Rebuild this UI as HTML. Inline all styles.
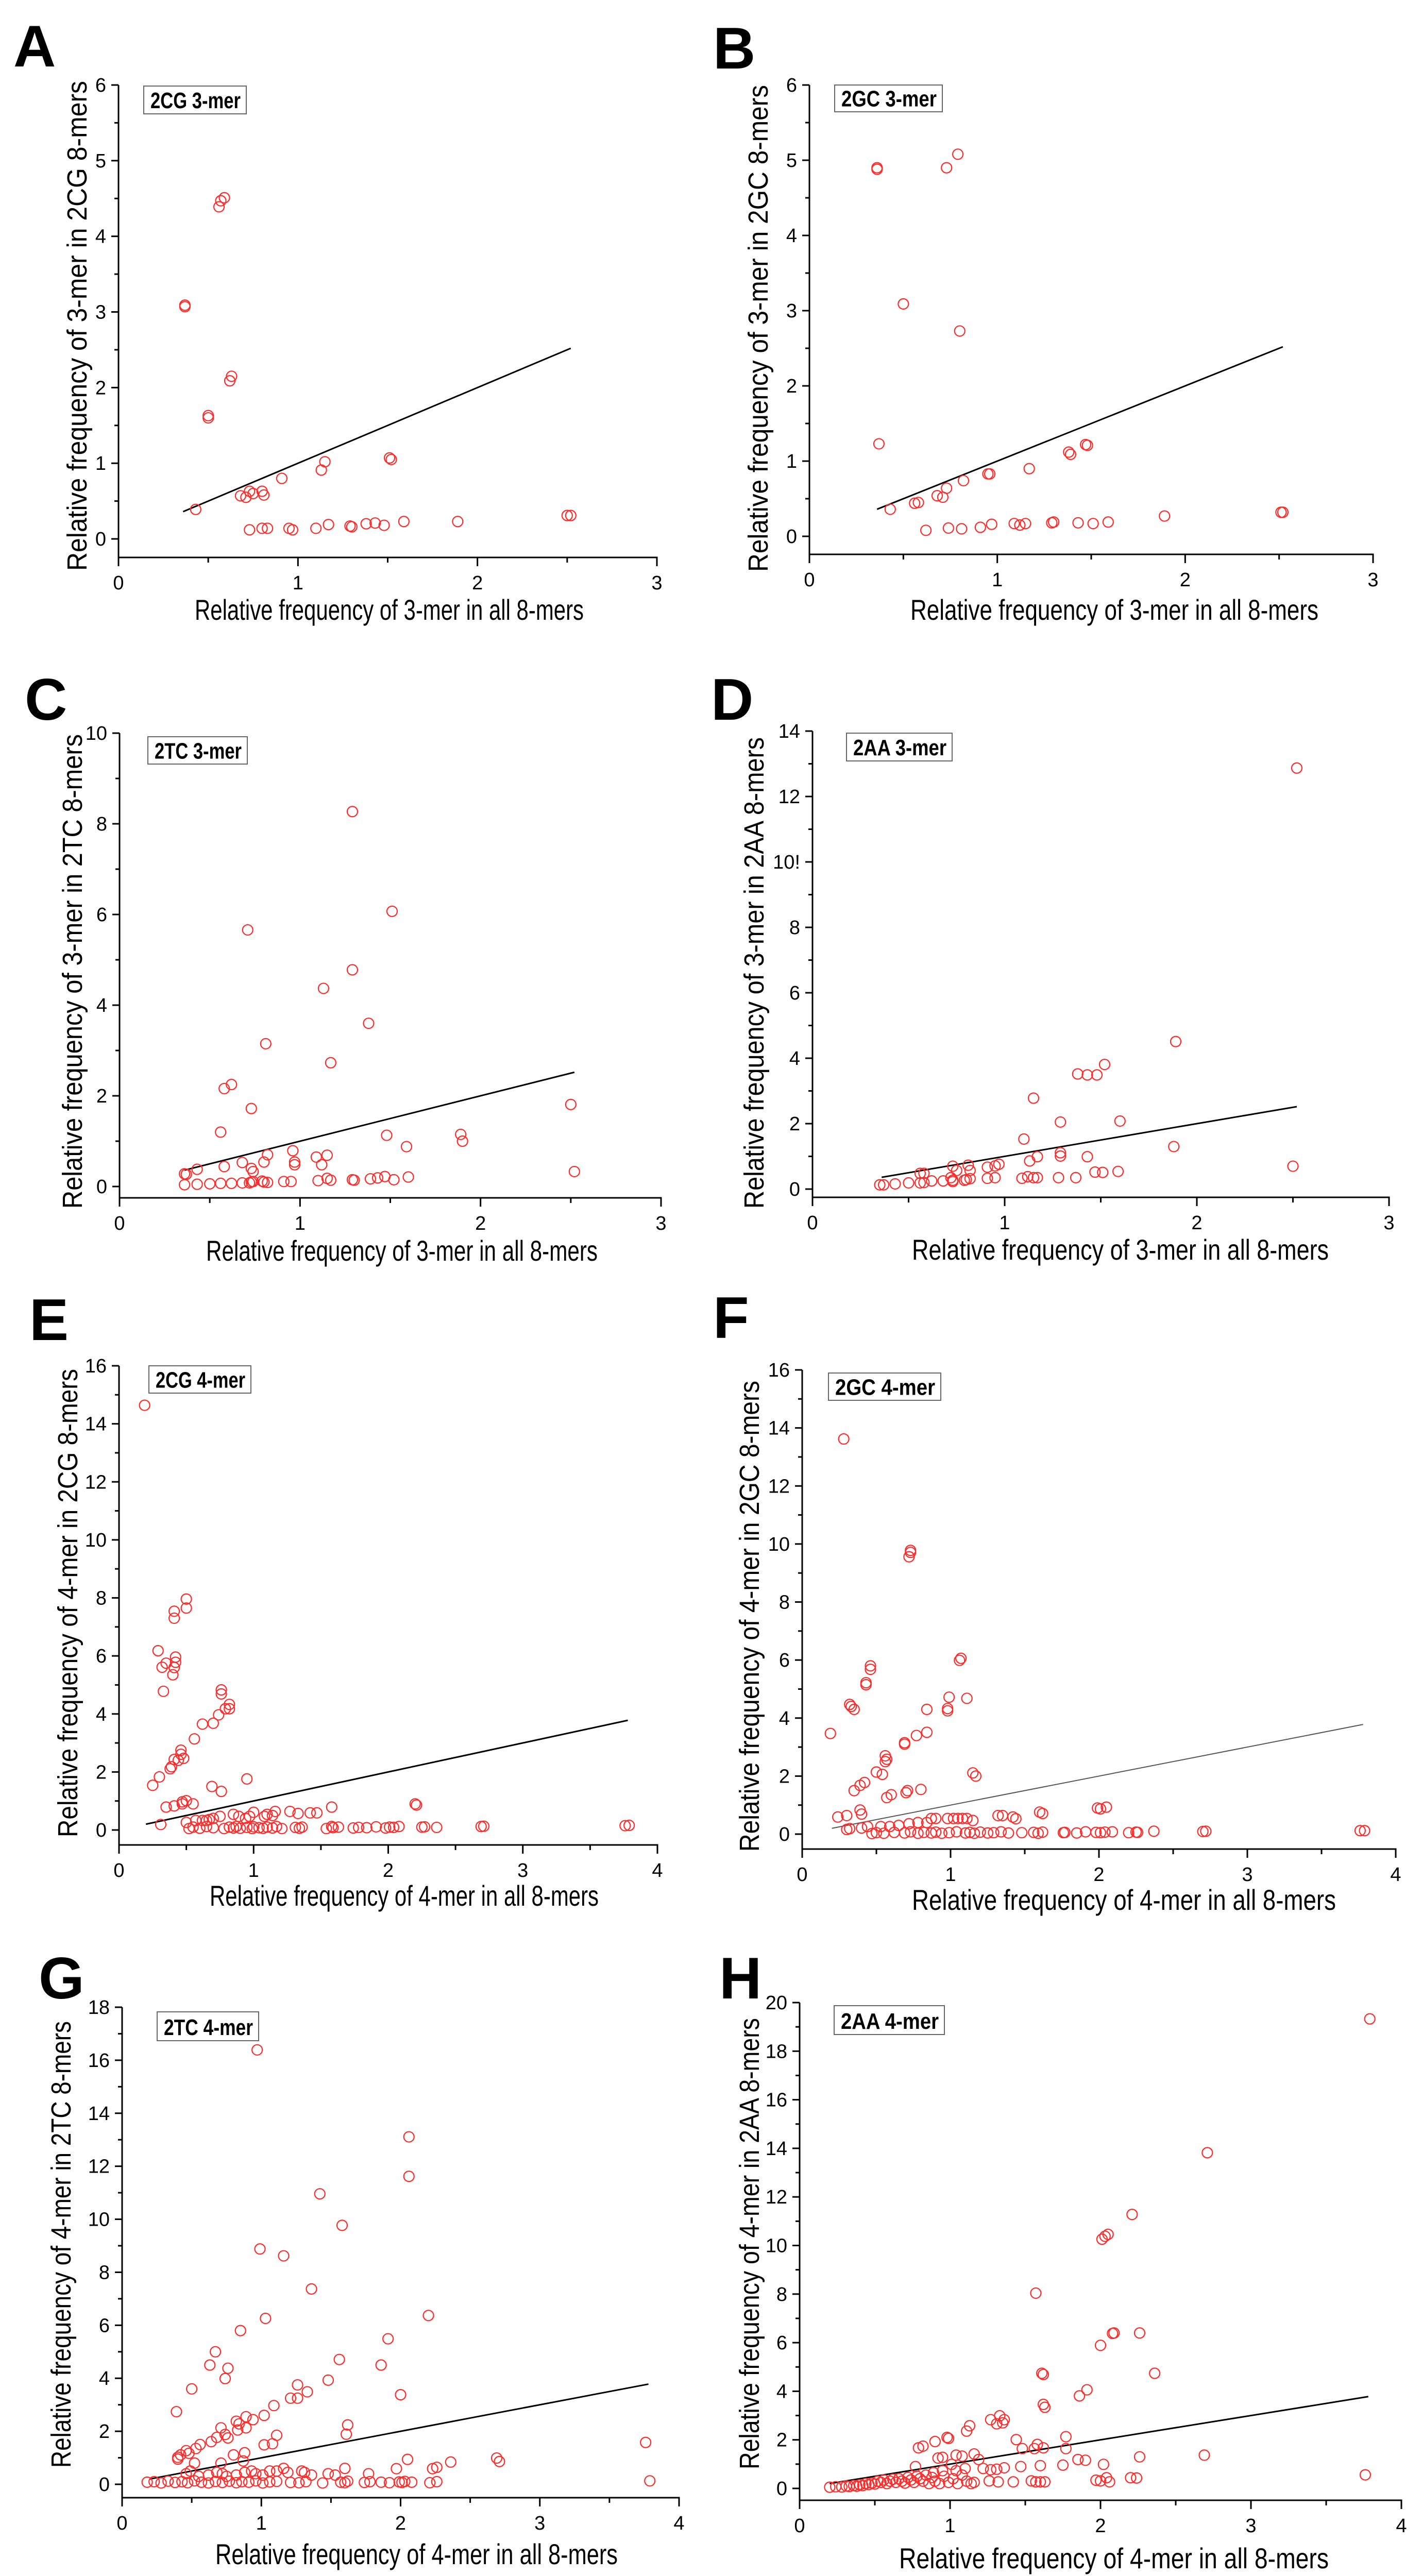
<!DOCTYPE html>
<html><head><meta charset="utf-8"><title>k-mer relative frequency scatter plots</title>
<style>
html,body{margin:0;padding:0;background:#fff;width:2760px;height:5033px;overflow:hidden;}
svg{display:block;position:absolute;left:0;top:0;}
text{font-family:"Liberation Sans",sans-serif;fill:#000;}
</style></head>
<body>
<svg id="fig" xmlns="http://www.w3.org/2000/svg" width="2760" height="5033" viewBox="0 0 2760 5033"></svg>
<script>
// ---------- data ----------
const aX=[.37,.37,.43,.50,.50,.56,.57,.59,.62,.63,.68,.71,.73,.75,.80,.81,.91,.73,.80,.83,.95,.97,1.10,1.17,1.13,1.15,1.29,1.30,1.38,1.43,1.48,1.51,1.52,1.59,1.89,2.50,2.52];
const aY=[3.09,3.07,.39,1.63,1.60,4.39,4.47,4.51,2.09,2.15,.57,.55,.63,.60,.63,.58,.80,.12,.14,.14,.14,.12,.14,.19,.91,1.02,.17,.16,.20,.21,.18,1.07,1.05,.23,.23,.31,.31];
const bX=[.36,.36,.73,.79,.50,.80,.37,.43,.56,.58,.68,.71,.73,.82,.95,.96,1.17,1.38,1.39,1.47,1.48,.62,.74,.81,.91,.97,1.09,1.12,1.15,1.29,1.30,1.43,1.51,1.59,1.89,2.51,2.52];
const bY=[4.90,4.88,4.90,5.08,3.09,2.73,1.23,.36,.44,.45,.54,.52,.64,.74,.83,.83,.90,1.12,1.09,1.22,1.21,.08,.11,.10,.12,.16,.17,.15,.17,.18,.19,.18,.17,.19,.27,.32,.32];
const cX=[1.29,1.51,.71,1.29,1.13,1.38,.81,1.17,.58,.62,.73,.56,2.50,1.48,1.89,1.90,1.59,2.52,.36,.37,.43,.58,.68,.73,.74,.80,.82,.96,.97,.97,1.09,1.12,1.15,
 .36,.43,.50,.56,.62,.68,.72,.73,.74,.79,.80,.82,.91,.95,1.10,1.15,1.17,1.29,1.30,1.39,1.43,1.47,1.52,1.60];
const cY=[8.27,6.07,5.66,4.78,4.37,3.60,3.15,2.73,2.16,2.25,1.72,1.20,1.81,1.13,1.15,1.00,.88,.33,.28,.27,.38,.44,.53,.40,.33,.54,.70,.79,.54,.48,.65,.48,.69,
 .04,.05,.06,.07,.07,.08,.08,.10,.11,.12,.10,.09,.11,.11,.13,.18,.14,.15,.14,.17,.19,.22,.15,.21];
const dX=[2.52,1.89,1.52,1.38,1.43,1.48,1.15,1.29,1.60,1.10,1.88,1.29,1.29,1.17,1.13,1.43,2.50,1.47,1.51,1.59,.73,.75,.81,.82,.91,.95,.97,.91,.95,1.09,1.12,1.15,1.17,1.28,1.37,.56,.58,.72,
 .35,.37,.43,.50,.56,.58,.62,.68,.73,.73,.79,.80,.82];
const dY=[12.87,4.51,3.81,3.52,3.49,3.49,2.78,2.05,2.08,1.53,1.30,1.11,1.01,.99,.86,.99,.70,.52,.51,.54,.70,.57,.73,.57,.67,.71,.76,.33,.35,.33,.38,.35,.35,.35,.35,.48,.48,.35,
 .13,.13,.16,.19,.19,.20,.25,.25,.23,.27,.27,.29,.32];
const eX=[.19,.50,.50,.41,.41,.29,.42,.42,.41,.40,.32,.35,.33,.76,.76,.82,.82,.79,.74,.70,.62,.56,.46,.46,.48,.44,.41,.39,.38,.30,.25,.95,.69,.76,.35,.41,.47,.50,.55,.47,.31,2.21,2.20,1.58,1.27,1.33,1.42,1.47,1.14,1.16,1.08,1.10,1.00,.97,.85,.89,.94,.75,.70,.67,.65,.62,.57,.50,
 .52,.55,.60,.65,.70,.78,.82,.85,.87,.90,.95,.99,1.00,1.04,1.07,1.10,1.14,1.17,1.21,1.31,1.34,1.36,1.54,1.58,1.59,1.63,1.74,1.78,1.84,1.91,1.98,2.01,2.04,2.08,2.25,2.27,2.36,2.69,2.71,3.76,3.79];
const eY=[14.64,7.96,7.65,7.54,7.30,6.18,5.96,5.78,5.60,5.35,5.61,5.75,4.78,4.83,4.69,4.33,4.18,4.18,3.97,3.68,3.65,3.14,2.75,2.61,2.47,2.40,2.43,2.18,2.11,1.83,1.54,1.76,1.50,1.33,.79,.83,.90,1.01,.90,.97,.19,.86,.90,.79,.64,.57,.59,.59,.50,.64,.47,.54,.61,.47,.54,.47,.40,.47,.40,.36,.33,.33,.33,.26,
 .05,.10,.06,.12,.08,.05,.10,.07,.12,.06,.09,.05,.11,.08,.06,.10,.07,.12,.05,.09,.06,.10,.05,.12,.08,.10,.07,.09,.08,.11,.07,.10,.09,.12,.10,.11,.09,.12,.13,.15,.16];
const fX=[.28,.72,.73,.73,1.06,1.07,.46,.46,.43,.43,.32,.33,.35,.84,.99,.98,.98,1.11,.19,.84,.77,.69,.69,.56,.57,.56,.50,.54,1.15,1.17,.35,.39,.42,.71,.70,.80,.57,.60,.39,.40,.24,.30,1.99,2.01,2.05,1.60,1.62,1.32,1.35,1.42,1.44,.87,.90,.98,1.02,1.05,1.08,1.11,1.15,.78,.84,.72,.65,.59,.53,.44,.30,.32,.40,
 .47,.50,.55,.62,.69,.73,.78,.82,.87,.90,.94,.99,1.04,1.10,1.13,1.16,1.20,1.25,1.29,1.34,1.39,1.48,1.56,1.59,1.62,1.76,1.77,1.85,1.91,1.98,2.01,2.04,2.09,2.20,2.25,2.26,2.37,2.70,2.72,3.76,3.79];
const fY=[13.62,9.56,9.71,9.78,5.99,6.06,5.68,5.80,5.22,5.15,4.47,4.40,4.30,4.30,4.72,4.25,4.33,4.68,3.47,3.51,3.40,3.15,3.10,2.70,2.58,2.50,2.14,2.06,2.11,2.00,1.50,1.68,1.78,1.50,1.43,1.54,1.26,1.36,.83,.69,.59,.64,.90,.87,.93,.76,.71,.64,.64,.59,.53,.54,.54,.54,.54,.54,.54,.54,.47,.40,.40,.36,.30,.26,.26,.26,.16,.19,.21,
 .02,.05,.03,.06,.04,.08,.03,.06,.04,.07,.03,.05,.08,.04,.06,.03,.07,.04,.05,.08,.04,.05,.06,.03,.07,.05,.06,.04,.08,.06,.05,.07,.08,.05,.07,.06,.10,.09,.10,.12,.12];
const gX=[.97,2.06,2.06,1.42,1.58,.99,1.16,1.36,1.03,2.20,.85,1.91,.67,.63,.76,.74,1.56,1.86,.50,1.48,1.26,1.33,1.21,1.26,2.00,.39,1.09,1.02,.82,.84,.89,.94,.89,.83,.71,.74,.76,.68,.64,1.62,1.61,1.11,1.08,1.02,.56,.53,.80,.88,.87,.40,.42,.46,.48,.40,.71,.52,3.76,2.69,2.71,2.36,2.05,1.97,2.23,2.26,3.79,
 .46,.49,.55,.62,.68,.72,.75,.82,.88,.93,.96,1.01,1.06,1.11,1.16,1.19,1.29,1.31,1.36,1.48,1.53,1.60,1.77,
 .18,.23,.28,.33,.38,.43,.47,.52,.57,.62,.67,.72,.77,.82,.86,.91,.96,1.01,1.06,1.11,1.21,1.27,1.32,1.44,1.57,1.60,1.62,1.74,1.78,1.86,1.92,1.99,2.01,2.03,2.08,2.21,2.26];
const gY=[16.39,13.11,11.62,10.96,9.77,8.88,8.62,7.37,6.26,6.37,5.80,5.49,5.00,4.50,4.38,3.99,4.71,4.50,3.60,3.93,3.75,3.49,3.25,3.25,3.38,2.74,2.97,2.60,2.38,2.28,2.55,2.44,2.13,2.05,2.13,1.88,1.75,1.77,1.61,2.24,1.89,1.85,1.53,1.49,1.50,1.35,1.11,1.19,.88,1.02,1.11,1.27,1.17,.95,.80,.80,1.58,.99,.86,.84,.94,.59,.59,.64,.13,
 .40,.50,.30,.35,.45,.40,.30,.35,.45,.50,.40,.35,.50,.50,.60,.45,.50,.45,.35,.40,.35,.60,.40,
 .08,.10,.05,.12,.07,.10,.06,.13,.08,.05,.11,.07,.12,.06,.10,.08,.13,.05,.09,.11,.07,.06,.10,.05,.08,.06,.12,.07,.10,.08,.06,.09,.07,.11,.08,.06,.10];
const hX=[3.79,2.71,2.21,2.01,2.03,2.05,1.57,2.00,2.08,2.09,2.26,2.36,1.61,1.62,1.91,1.86,1.62,1.63,1.27,1.31,1.33,1.36,1.35,1.13,1.11,.90,.98,.99,.79,.82,1.44,1.48,1.77,1.77,1.58,1.62,1.56,2.69,2.26,1.85,1.90,2.02,1.75,1.60,3.76,2.20,2.24,1.97,2.00,2.04,2.06,1.42,1.54,1.57,1.60,1.63,1.26,1.32,
 .92,.95,1.04,1.08,1.16,1.19,1.22,1.27,1.31,1.36,1.47,1.01,1.10,1.04,.95,.89,.77,
 .20,.24,.28,.31,.33,.36,.38,.40,.42,.44,.46,.48,.50,.52,.54,.56,.58,.60,.62,.64,.66,.68,.70,.72,.74,.76,.78,.80,.82,.84,.86,.88,.90,.93,.96,.99,1.02,1.05,1.08,1.11,1.14,1.16];
const hY=[19.33,13.82,11.28,10.26,10.38,10.46,8.04,5.89,6.38,6.40,6.40,4.74,4.74,4.69,4.06,3.81,3.46,3.34,2.83,2.66,2.99,2.83,2.70,2.58,2.36,1.93,2.10,2.06,1.67,1.74,2.01,1.64,2.13,1.64,1.81,1.67,1.64,1.37,1.30,1.19,1.16,.99,.96,.94,.56,.44,.43,.34,.31,.44,.27,.27,.31,.27,.27,.27,.31,.27,
 1.25,1.28,1.37,1.33,1.42,1.19,.82,.77,.79,.85,.90,.99,.82,.73,.73,.65,.90,
 .05,.07,.06,.10,.08,.12,.09,.15,.12,.20,.16,.22,.18,.30,.25,.35,.20,.30,.38,.25,.40,.30,.22,.45,.35,.25,.50,.40,.30,.55,.20,.45,.30,.20,.50,.25,.40,.20,.55,.30,.20,.25];
const fit3=[0.36,2.52];
const fit4=[0.20,3.78];
const ticks3x=["0","1","2","3"];
const ticks4x=["0","1","2","3","4"];
const ticksA=["0","1","2","3","4","5","6"];
const ticksC=["0","2","4","6","8","10"];
const ticksD=["0","2","4","6","8","10!","12","14"];
const ticksE=["0","2","4","6","8","10","12","14","16"];
const ticksG=["0","2","4","6","8","10","12","14","16","18"];
const ticksH=["0","2","4","6","8","10","12","14","16","18","20"];

// ---------- layout ----------
const panels=[
 {id:"a",letter:"A",lx:26,ly:129,key:"2CG",k:"3",xs:aX,ys:aY,xt:ticks3x,yt:ticksA,ymax:6,ystep:1,fit:fit3,
  px0:230,px1:1275,py0:1046,py1:165,ax:1082,box:[279,167,478,221],ytx:150,yty:[157,1108],xtx:[378,1133],xtb:1203},
 {id:"b",letter:"B",lx:1384,ly:133,key:"2GC",k:"3",xs:bX,ys:bY,xt:ticks3x,yt:ticksA,ymax:6,ystep:1,fit:fit3,
  px0:1571,px1:2665,py0:1041,py1:165,ax:1076,box:[1620,165,1829,217],ytx:1472,yty:[165,1110],xtx:[1767,2559],xtb:1203},
 {id:"c",letter:"C",lx:48,ly:1397,key:"2TC",k:"3",xs:cX,ys:cY,xt:ticks3x,yt:ticksC,ymax:10,ystep:2,fit:fit3,
  px0:232,px1:1283,py0:2303,py1:1423,ax:2325,box:[287,1430,480,1483],ytx:141,yty:[1425,2346],xtx:[400,1160],xtb:2447},
 {id:"d",letter:"D",lx:1380,ly:1397,key:"2AA",k:"3",xs:dX,ys:dY,xt:ticks3x,yt:ticksD,ymax:14,ystep:2,fit:fit3,
  px0:1577,px1:2696,py0:2308,py1:1419,ax:2324,box:[1643,1423,1848,1477],ytx:1464,yty:[1431,2346],xtx:[1770,2579],xtb:2445},
 {id:"e",letter:"E",lx:57,ly:2601,key:"2CG",k:"4",xs:eX,ys:eY,xt:ticks4x,yt:ticksE,ymax:16,ystep:2,fit:fit4,
  px0:231,px1:1276,py0:3552,py1:2651,ax:3581,box:[289,2651,487,2704],ytx:132,yty:[2657,3566],xtx:[407,1162],xtb:3699},
 {id:"f",letter:"F",lx:1384,ly:2597,key:"2GC",k:"4",xs:fX,ys:fY,xt:ticks4x,yt:ticksE,ymax:16,ystep:2,fit:fit4,thin:true,
  px0:1557,px1:2709,py0:3560,py1:2659,ax:3589,box:[1608,2665,1826,2718],ytx:1455,yty:[2680,3594],xtx:[1770,2593],xtb:3707},
 {id:"g",letter:"G",lx:75,ly:3879,key:"2TC",k:"4",xs:gX,ys:gY,xt:ticks4x,yt:ticksG,ymax:18,ystep:2,fit:fit4,
  px0:237,px1:1318,py0:4822,py1:3896,ax:4848,box:[305,3905,502,3961],ytx:119,yty:[3923,4790],xtx:[418,1199],xtb:4977},
 {id:"h",letter:"H",lx:1396,ly:3879,key:"2AA",k:"4",xs:hX,ys:hY,xt:ticks4x,yt:ticksH,ymax:20,ystep:2,fit:fit4,
  px0:1552,px1:2720,py0:4830,py1:3887,ax:4853,box:[1619,3893,1833,3949],ytx:1455,yty:[3917,4793],xtx:[1745,2579],xtb:4985}
];

const NS="http://www.w3.org/2000/svg";
const svg=document.getElementById("fig");
function mk(tag,attrs,parent){const e=document.createElementNS(NS,tag);for(const k in attrs)e.setAttribute(k,attrs[k]);(parent||svg).appendChild(e);return e;}

panels.forEach(p=>{
  const xmax=p.xt.length-1;
  const X=v=>p.px0+(p.px1-p.px0)*v/xmax;
  const Y=v=>p.py0-(p.py0-p.py1)*v/p.ymax;
  const g=mk("g",{});
  
  

  const L=mk("text",{x:p.lx,y:p.ly,"font-size":114,"font-weight":"bold"},g);
  L.textContent=p.letter;
  
  

  const axes=mk("g",{stroke:"#000","stroke-width":3,fill:"none"},g);
  
  
  mk("line",{x1:p.px0,y1:p.ax+1.5,x2:p.px0,y2:p.py1},axes);
  mk("line",{x1:p.px0-1.5,y1:p.ax,x2:p.px1+1.5,y2:p.ax},axes);
  for(let i=0;i<=xmax*2;i++){
    const xv=i/2, xp=X(xv), major=(i%2===0);
    mk("line",{x1:xp,y1:p.ax,x2:xp,y2:p.ax+(major?17:10)},axes);
  }
  p.xt.forEach((t,i)=>{
    const tx=mk("text",{x:X(i),y:p.ax+62,"font-size":38,"text-anchor":"middle"},g);
    tx.textContent=t;
    
    
  });
  const nMinor=p.ymax/p.ystep*2;
  for(let i=0;i<=nMinor;i++){
    const yv=i*p.ystep/2, yp=Y(yv), major=(i%2===0);
    mk("line",{x1:p.px0,y1:yp,x2:p.px0-(major?14:8),y2:yp},axes);
  }
  p.yt.forEach((t,i)=>{
    const ty=mk("text",{x:p.px0-24,y:Y(i*p.ystep)+13,"font-size":38,"text-anchor":"end"},g);
    ty.textContent=t;
    
    
  });
  const yc=(p.yty[0]+p.yty[1])/2;
  const yt=mk("text",{x:p.ytx,y:yc,"font-size":54,"text-anchor":"middle","dominant-baseline":"central",
    transform:`rotate(-90 ${p.ytx} ${yc})`,textLength:p.yty[1]-p.yty[0],lengthAdjust:"spacingAndGlyphs"},g);
  yt.textContent=`Relative frequency of ${p.k}-mer in ${p.key} 8-mers`;
  
  
  const xt=mk("text",{x:p.xtx[0],y:p.xtb,"font-size":56,textLength:p.xtx[1]-p.xtx[0],lengthAdjust:"spacingAndGlyphs"},g);
  xt.textContent=`Relative frequency of ${p.k}-mer in all 8-mers`;
  
  
  const b=p.box;
  const bx=mk("rect",{x:b[0],y:b[1],width:b[2]-b[0],height:b[3]-b[1],fill:"#fff",stroke:"#666","stroke-width":2},g);
  
  
  const bt=mk("text",{x:b[0]+13,y:b[1]+(b[3]-b[1])*0.8,"font-size":44,"font-weight":"bold",textLength:b[2]-b[0]-24,lengthAdjust:"spacingAndGlyphs"},g);
  bt.textContent=`${p.key} ${p.k}-mer`;
  
  
  const fl=mk("line",{x1:X(p.fit[0]),y1:Y(p.fit[0]),x2:X(p.fit[1]),y2:Y(p.fit[1]),stroke:p.thin?"#555":"#000","stroke-width":p.thin?2:3},g);
  
  
  const pts=mk("g",{fill:"none",stroke:"#ff2a2a","stroke-width":2.2},g);
  
  
  p.xs.forEach((xv,i)=>{
    const c=mk("circle",{cx:X(xv),cy:Y(p.ys[i]),r:10},pts);
    
    
  });
});
</script>
</body></html>
